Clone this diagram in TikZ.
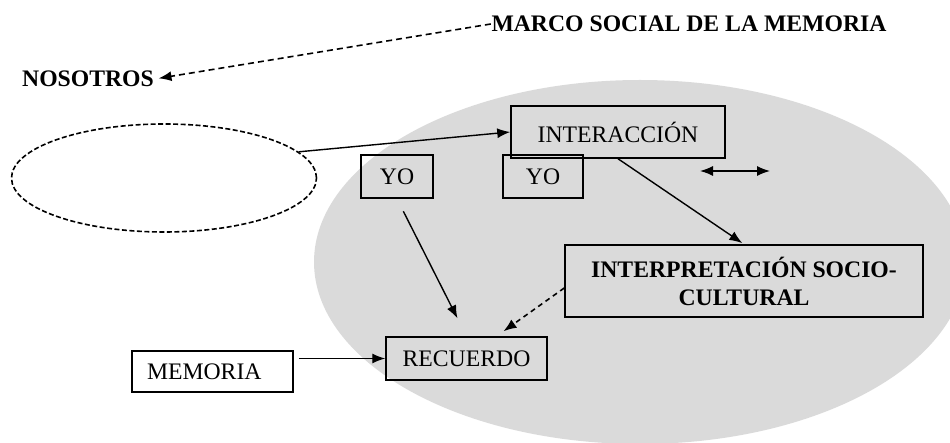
\documentclass[tikz,border=0pt]{standalone}
\usepackage{fontspec}
\setmainfont{Liberation Serif}
\usetikzlibrary{arrows.meta,shapes.geometric}
\definecolor{fondo}{RGB}{218,218,218}
\tikzset{
  txt/.style={font=\fontsize{23.7pt}{28pt}\selectfont, inner sep=0pt},
  negrita/.style={txt, font=\fontsize{23.7pt}{28pt}\selectfont\bfseries},
  caja/.style={txt, draw, line width=1.5pt},
}

\begin{document}
\begin{tikzpicture}[x=1pt,y=-1pt,>={Latex[length=13pt,width=10pt]},line width=1.4pt]
    \useasboundingbox (0,0) rectangle (950,443);
    \clip (0,0) rectangle (950,443);
    \fill[fondo] (640,262) ellipse [x radius=326pt, y radius=182pt];

    \node[negrita] (marco) at (689,24) {MARCO SOCIAL DE LA MEMORIA};
    \node[negrita] (nosotros) at (88,79) {NOSOTROS};
    \node[ellipse, draw, line width=1.6pt, dash pattern=on 5pt off 2.5pt, minimum width=305pt, minimum height=108pt] (grupo) at (164,178) {};

    \node[caja, minimum width=214pt, minimum height=52pt] (interaccion) at (618,132) {INTERACCIÓN};
    \node[caja, minimum width=72pt, minimum height=43pt] (yo1) at (397,176.5) {YO};
    \node[caja, minimum width=80pt, minimum height=43pt] (yo2) at (543,176.5) {YO};
    \node[caja, negrita, align=center, minimum width=358pt, minimum height=72pt] (interp) at (744,281) {INTERPRETACIÓN SOCIO-\\CULTURAL};
    \node[caja, minimum width=161pt, minimum height=43pt] (recuerdo) at (466.5,358.5) {RECUERDO};
    \node[caja, text width=131pt, inner xsep=15pt, align=left, minimum height=41pt] (memoria) at (212.5,371.5) {MEMORIA};

    \draw[->, line width=1.6pt, dash pattern=on 6pt off 4pt, shorten >=4pt] (marco.west) -- (nosotros.east);
    \draw[->] (grupo.11) -- (interaccion.west);
    \draw[->, shorten >=2pt] (interaccion.south) -- (interp.north);
    \draw[->, shorten <=14pt, shorten >=20pt] (yo1.south) -- (recuerdo.north);
    \draw[->, line width=1.6pt, dash pattern=on 5pt off 4pt] ([yshift=-7pt]interp.west) -- ([xshift=37pt,yshift=5pt]recuerdo.north);
    \draw[->, shorten <=5pt] (memoria.east |- recuerdo.west) -- (recuerdo.west);

    \coordinate (ida) at (700,171);
    \coordinate (vuelta) at (770,171);
    \draw[<->] (ida) -- (vuelta);
\end{tikzpicture}
\end{document}
